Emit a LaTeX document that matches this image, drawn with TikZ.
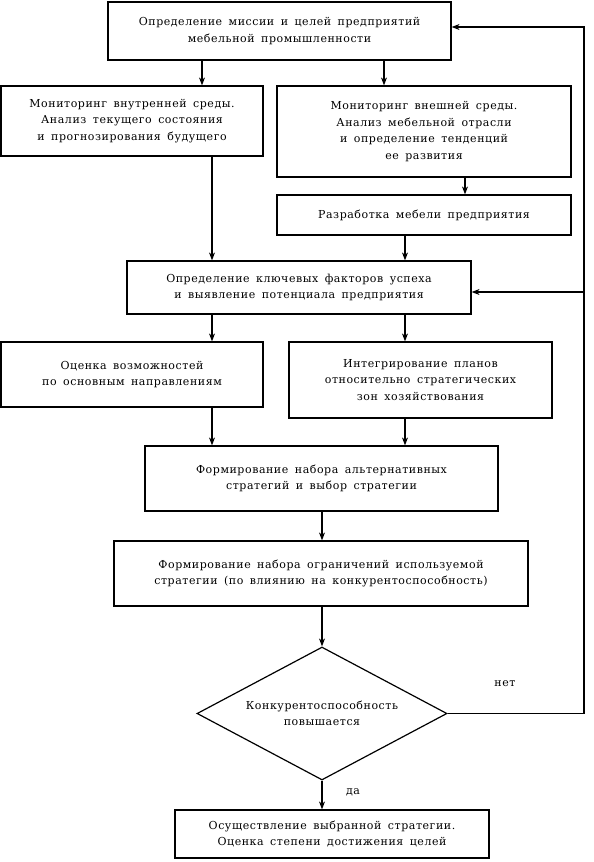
\documentclass[tikz,border=0pt]{standalone}
\usepackage{fontspec}
\setmainfont{DejaVu Serif}[WordSpace=1.6,LetterSpace=5]
\usetikzlibrary{arrows.meta,shapes.geometric}
\begin{document}
\begin{tikzpicture}[x=1pt,y=-1pt,
  box/.style={draw,line width=1.2pt,align=center,inner sep=0pt,font=\fontsize{11}{16.5}\selectfont},
  arr/.style={line width=1.2pt,-{Stealth[length=8pt,width=6pt]}},
  lab/.style={font=\fontsize{11}{16.5}\selectfont,inner sep=0pt}]
\useasboundingbox (0,0) rectangle (594,862);
\node[box,minimum width=343,minimum height=58] (b1) at (279.5,31) {Определение миссии и целей предприятий\\мебельной промышленности};
\node[box,minimum width=262,minimum height=70] (b2) at (132,121) {Мониторинг внутренней среды.\\Анализ текущего состояния\\и прогнозирования будущего};
\node[box,minimum width=294,minimum height=91] (b3) at (424,131.5) {Мониторинг внешней среды.\\Анализ мебельной отрасли\\и определение тенденций\\ее развития};
\node[box,minimum width=294,minimum height=40] (b4) at (424,215) {Разработка мебели предприятия};
\node[box,minimum width=344,minimum height=53] (b5) at (299,287.5) {Определение ключевых факторов успеха\\и выявление потенциала предприятия};
\node[box,minimum width=262,minimum height=65] (b6) at (132,374.5) {Оценка возможностей\\по основным направлениям};
\node[box,minimum width=263,minimum height=76] (b7) at (420.5,380) {Интегрирование планов\\относительно стратегических\\зон хозяйствования};
\node[box,minimum width=353,minimum height=65] (b8) at (321.5,478.5) {Формирование набора альтернативных\\стратегий и выбор стратегии};
\node[box,minimum width=414,minimum height=65] (b9) at (321,573.5) {Формирование набора ограничений используемой\\стратегии (по влиянию на конкурентоспособность)};
\node[box,shape=diamond,aspect=1.88,minimum width=250,minimum height=133] (d) at (322,713.5) {Конкурентоспособность\\повышается};
\node[box,minimum width=314,minimum height=48] (b10) at (332,834) {Осуществление выбранной стратегии.\\Оценка степени достижения целей};
\node[lab] (no) at (505,684) {нет};
\node[lab] (yes) at (353,792) {да};
\coordinate (xa) at (202,0);
\coordinate (xb) at (384,0);
\coordinate (xc) at (465,0);
\coordinate (xd) at (212,0);
\coordinate (xe) at (405,0);
\coordinate (fb1) at (584,27);
\coordinate (fb2) at (584,292);
\draw[arr] (b1.south -| xa) -- (b2.north -| xa);
\draw[arr] (b1.south -| xb) -- (b3.north -| xb);
\draw[arr] (b3.south -| xc) -- (b4.north -| xc);
\draw[arr] (b2.south -| xd) -- (b5.north -| xd);
\draw[arr] (b4.south -| xe) -- (b5.north -| xe);
\draw[arr] (b5.south -| xd) -- (b6.north -| xd);
\draw[arr] (b5.south -| xe) -- (b7.north -| xe);
\draw[arr] (b6.south -| xd) -- (b8.north -| xd);
\draw[arr] (b7.south -| xe) -- (b8.north -| xe);
\draw[arr] (b8.south -| d.north) -- (b9.north -| d.north);
\draw[arr] (b9.south -| d.north) -- (d.north);
\draw[arr] (d.south) -- (b10.north -| d.south);
\draw[arr] (d.east) -| (fb1) -- (fb1 -| b1.east);
\draw[arr] (fb2) -- (fb2 -| b5.east);
\end{tikzpicture}
\end{document}
